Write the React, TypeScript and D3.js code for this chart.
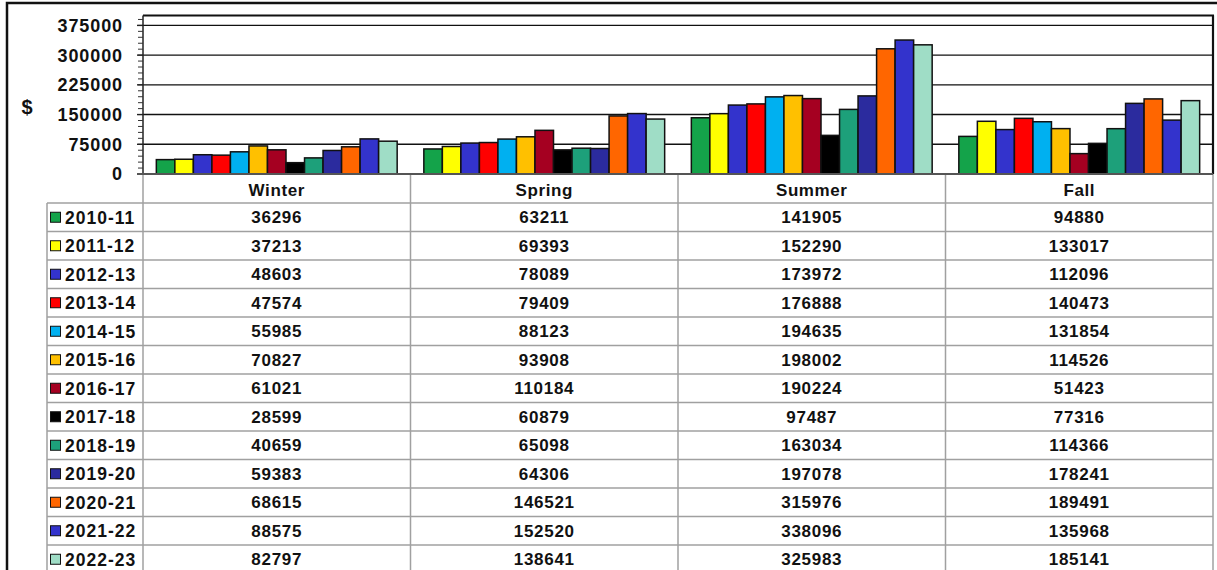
import React from "react";
import * as d3 from "d3";

const categories = ["Winter", "Spring", "Summer", "Fall"];
const seriesNames = [
  "2010-11", "2011-12", "2012-13", "2013-14", "2014-15", "2015-16", "2016-17",
  "2017-18", "2018-19", "2019-20", "2020-21", "2021-22", "2022-23",
];
const seriesColors = [
  "#14A34A", "#FFFF00", "#3333CC", "#FF0000", "#00B0F0", "#FFC000", "#A50021",
  "#000000", "#1DA07A", "#2B2B9E", "#FF6600", "#3333CC", "#9FDDC6",
];
const v2010 = [36296, 63211, 141905, 94880];
const v2011 = [37213, 69393, 152290, 133017];
const v2012 = [48603, 78089, 173972, 112096];
const v2013 = [47574, 79409, 176888, 140473];
const v2014 = [55985, 88123, 194635, 131854];
const v2015 = [70827, 93908, 198002, 114526];
const v2016 = [61021, 110184, 190224, 51423];
const v2017 = [28599, 60879, 97487, 77316];
const v2018 = [40659, 65098, 163034, 114366];
const v2019 = [59383, 64306, 197078, 178241];
const v2020 = [68615, 146521, 315976, 189491];
const v2021 = [88575, 152520, 338096, 135968];
const v2022 = [82797, 138641, 325983, 185141];
const seriesValues = [v2010, v2011, v2012, v2013, v2014, v2015, v2016, v2017, v2018, v2019, v2020, v2021, v2022];
const yTicks = [0, 75000, 150000, 225000, 300000, 375000];
const yMax = 400000;

const W = 1217;
const H = 570;
const plotL = 143;
const plotR = 1213;
const plotT = 15.5;
const plotB = 174;
const headerB = 203;
const rowH = 28.5;
const legendL = 47;

const font = "'Liberation Sans', Arial, sans-serif";

export default function App() {
  const x0 = d3.scaleBand<string>().domain(categories).range([plotL, plotR]).padding(0);
  const x1 = d3
    .scaleBand<string>()
    .domain(seriesNames)
    .range([0, x0.bandwidth()])
    .paddingInner(0)
    .paddingOuter(0.72);
  const y = d3.scaleLinear().domain([0, yMax]).range([plotB, plotT]);
  const minorTicks = d3.range(0, yMax, 15000);
  const rowLines = d3.range(seriesNames.length + 1).map((i) => headerB + i * rowH);

  return (
    <svg
      width={W}
      height={H}
      style={{ position: "absolute", left: 0, top: 0, display: "block", background: "#fff" }}
    >
      <rect x={0} y={0} width={W} height={H} fill="#fff" />
      {/* outer frame */}
      <rect x={7} y={3} width={W + 20} height={H + 20} fill="none" stroke="#111" strokeWidth={2.5} />

      {/* gridlines */}
      {yTicks.slice(1).map((t) => (
        <line key={"g" + t} x1={plotL} x2={plotR} y1={y(t)} y2={y(t)} stroke="#111" strokeWidth={1.4} />
      ))}

      {/* bars */}
      {categories.map((c, ci) => (
        <g key={c} transform={`translate(${x0(c)},0)`}>
          {seriesNames.map((s, si) => {
            const v = seriesValues[si][ci];
            return (
              <rect
                key={s}
                x={x1(s)!}
                y={y(v)}
                width={x1.bandwidth()}
                height={plotB - y(v)}
                fill={seriesColors[si]}
                stroke="#111"
                strokeWidth={1.5}
              />
            );
          })}
        </g>
      ))}

      {/* plot frame top & right */}
      <line x1={plotL} x2={plotR + 1} y1={plotT} y2={plotT} stroke="#111" strokeWidth={2.2} />
      <line x1={plotR} x2={plotR} y1={plotT} y2={plotB} stroke="#111" strokeWidth={2.2} />

      {/* y axis */}
      <line x1={plotL} x2={plotL} y1={plotT} y2={plotB} stroke="#222" strokeWidth={1.5} />
      {minorTicks.map((t) => (
        <line key={"m" + t} x1={plotL - 5} x2={plotL} y1={y(t)} y2={y(t)} stroke="#333" strokeWidth={1} />
      ))}
      {yTicks.map((t) => (
        <g key={"t" + t}>
          <line x1={plotL - 6} x2={plotL} y1={y(t)} y2={y(t)} stroke="#222" strokeWidth={1.4} />
          <text
            x={123}
            y={y(t)}
            dy="0.36em"
            textAnchor="end"
            fontFamily={font}
            fontWeight="bold"
            fontSize={18}
            letterSpacing={0.9}
            fill="#111"
          >
            {t}
          </text>
        </g>
      ))}
      <text x={27} y={107} dy="0.36em" textAnchor="middle" fontFamily={font} fontWeight="bold" fontSize={20} fill="#111">
        $
      </text>

      {/* table lines */}
      {rowLines.map((ry, i) => (
        <line key={"r" + i} x1={legendL} x2={plotR} y1={ry} y2={ry} stroke="#a0a0a0" strokeWidth={1.5} />
      ))}
      {categories.map((c) => (
        <line key={"v" + c} x1={x0(c)!} x2={x0(c)!} y1={plotB} y2={H + 5} stroke="#a0a0a0" strokeWidth={1.5} />
      ))}
      <line x1={plotR} x2={plotR} y1={plotB} y2={H + 5} stroke="#a0a0a0" strokeWidth={1.5} />
      <line x1={legendL} x2={legendL} y1={headerB} y2={H + 5} stroke="#a0a0a0" strokeWidth={1.5} />
      {/* x axis line */}
      <line x1={plotL - 6} x2={plotR} y1={plotB} y2={plotB} stroke="#555" strokeWidth={1.8} />

      {/* header */}
      {categories.map((c) => (
        <text
          key={"h" + c}
          x={x0(c)! + x0.bandwidth() / 2}
          y={(plotB + headerB) / 2 + 1}
          dy="0.36em"
          textAnchor="middle"
          fontFamily={font}
          fontWeight="bold"
          fontSize={17}
          letterSpacing={0.6}
          fill="#111"
        >
          {c}
        </text>
      ))}

      {/* rows */}
      {seriesNames.map((s, si) => {
        const cy = headerB + si * rowH + rowH / 2;
        return (
          <g key={"row" + s}>
            <rect x={50.5} y={cy - 5} width={10} height={10} fill={seriesColors[si]} stroke="#111" strokeWidth={1} />
            <text
              x={65}
              y={cy}
              dy="0.36em"
              fontFamily={font}
              fontWeight="bold"
              fontSize={17.5}
              letterSpacing={1}
              fill="#111"
            >
              {s}
            </text>
            {categories.map((c, ci) => (
              <text
                key={c}
                x={x0(c)! + x0.bandwidth() / 2}
                y={cy}
                dy="0.36em"
                textAnchor="middle"
                fontFamily={font}
                fontWeight="bold"
                fontSize={17}
                letterSpacing={0.7}
                fill="#111"
              >
                {seriesValues[si][ci]}
              </text>
            ))}
          </g>
        );
      })}
    </svg>
  );
}
